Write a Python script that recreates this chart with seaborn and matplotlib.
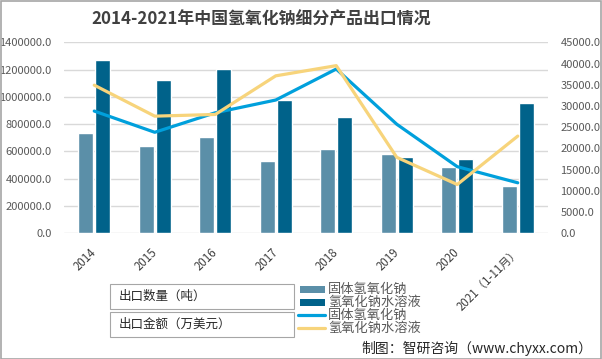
import numpy as np
import pandas as pd
import seaborn as sns
import matplotlib
matplotlib.use("Agg")
import matplotlib.pyplot as plt
from matplotlib.patches import Rectangle
from matplotlib.lines import Line2D

# ---- data ----
categories = ["2014", "2015", "2016", "2017", "2018", "2019", "2020", "2021（1-11月）"]
qty_solid = [735000, 640000, 705000, 530000, 618000, 581000, 486000, 347000]
qty_liquid = [1270000, 1123000, 1204000, 977000, 852000, 559000, 544000, 955000]
amt_solid = [28800, 23800, 28400, 31400, 38700, 25700, 15700, 11900]
amt_liquid = [34900, 27600, 28000, 37100, 39500, 17900, 11500, 22900]
series_names = ["固体氢氧化钠", "氢氧化钠水溶液"]
left_ticks = [0, 200000, 400000, 600000, 800000, 1000000, 1200000, 1400000]
right_ticks = [0, 5000, 10000, 15000, 20000, 25000, 30000, 35000, 40000, 45000]

bar_colors = ["#5B8FA8", "#00628A"]
line_colors = ["#00A0DC", "#F7D47B"]
tick_color = "#595959"
grid_color = "#D9D9D9"

sns.set_theme(style="white")
plt.rcParams["font.family"] = ["Noto Sans CJK SC", "DejaVu Sans"]
plt.rcParams["axes.unicode_minus"] = False

df_bar = pd.DataFrame({
    "year": categories * 2,
    "value": qty_solid + qty_liquid,
    "series": [series_names[0]] * len(categories) + [series_names[1]] * len(categories),
})
df_line = pd.DataFrame({
    "pos": list(range(len(categories))) * 2,
    "value": amt_solid + amt_liquid,
    "series": [series_names[0]] * len(categories) + [series_names[1]] * len(categories),
})

W, H = 602, 359
fig = plt.figure(figsize=(W / 100, H / 100), dpi=100)
ax = fig.add_axes([64 / W, 1 - 233.3 / H, (548 - 64) / W, (233.3 - 42.3) / H])

sns.barplot(data=df_bar, x="year", y="value", hue="series", order=categories,
            hue_order=series_names, palette=bar_colors, width=0.56, gap=0.12,
            saturation=1, ax=ax, legend=False)
ax.set_ylim(0, left_ticks[-1])
ax.set_yticks(left_ticks)
ax.set_yticklabels([f"{v:.1f}" for v in left_ticks])
ax.yaxis.grid(True, color=grid_color, linewidth=1)
ax.set_axisbelow(True)
ax.set_xlim(-0.5, len(categories) - 0.5)
for s in ax.spines.values():
    s.set_visible(False)
ax.set_xlabel("")
ax.set_ylabel("")
ax.tick_params(axis="both", length=0, colors=tick_color, labelsize=8)
ax.tick_params(axis="y", pad=9)
ax.set_xticks(range(len(categories)))
ax.set_xticklabels(categories, rotation=45, ha="right", va="center",
                   rotation_mode="anchor", color="#404040", fontsize=8.3)
ax.tick_params(axis="x", pad=12)

ax2 = ax.twinx()
sns.lineplot(data=df_line, x="pos", y="value", hue="series", hue_order=series_names,
             palette=line_colors, linewidth=2.3, sort=False, ax=ax2, legend=False)
ax2.set_ylim(0, right_ticks[-1])
ax2.set_yticks(right_ticks)
ax2.set_yticklabels([f"{v:.1f}" for v in right_ticks])
ax2.set_xlim(-0.5, len(categories) - 0.5)
for s in ax2.spines.values():
    s.set_visible(False)
ax2.set_ylabel("")
ax2.set_xlabel("")
ax2.tick_params(axis="y", length=0, colors=tick_color, labelsize=8, pad=9)
ax2.grid(False)

# title
fig.text(261 / W, 1 - 19 / H, "2014-2021年中国氢氧化钠细分产品出口情况",
         ha="center", va="center", fontsize=12.2, fontweight="bold", color="#404040")

def px(x, y):
    return x / W, 1 - y / H

# table-like legend boxes
for (y0, y1, txt) in [(284, 309, "出口数量（吨）"), (312, 337, "出口金额（万美元）")]:
    x0f, y1f = px(110, y1)
    fig.add_artist(Rectangle((x0f, y1f), (294 - 110) / W, (y1 - y0) / H,
                             transform=fig.transFigure, facecolor="white",
                             edgecolor="#A6A6A6", linewidth=0.8))
    fig.text(*px(119, (y0 + y1) / 2), txt, ha="left", va="center",
             fontsize=9, color="#262626")

rows = [289, 302, 315, 328]
for i, name in enumerate(series_names):
    x0, yc = px(300, rows[i] + 3.5)
    fig.add_artist(Rectangle((x0, yc), 25 / W, 7 / H, transform=fig.transFigure,
                             facecolor=bar_colors[i], edgecolor="none"))
    fig.text(*px(328, rows[i]), name, ha="left", va="center", fontsize=9.5, color=tick_color)
for i, name in enumerate(series_names):
    yv = 1 - rows[2 + i] / H
    fig.add_artist(Line2D([298 / W, 325 / W], [yv, yv], transform=fig.transFigure,
                          color=line_colors[i], linewidth=2.3))
    fig.text(*px(328, rows[2 + i]), name, ha="left", va="center", fontsize=9.5, color=tick_color)

# source
fig.text(592 / W, 1 - 348 / H, "制图：智研咨询（www.chyxx.com）", ha="right", va="center",
         fontsize=10, color="#262626")

# border
fig.add_artist(Rectangle((0.5 / W, 0.5 / H), 1 - 1.5 / W, 1 - 1.5 / H,
                         transform=fig.transFigure, fill=False,
                         edgecolor="#A6A6A6", linewidth=1.2))

fig.savefig("out.png", dpi=100)
